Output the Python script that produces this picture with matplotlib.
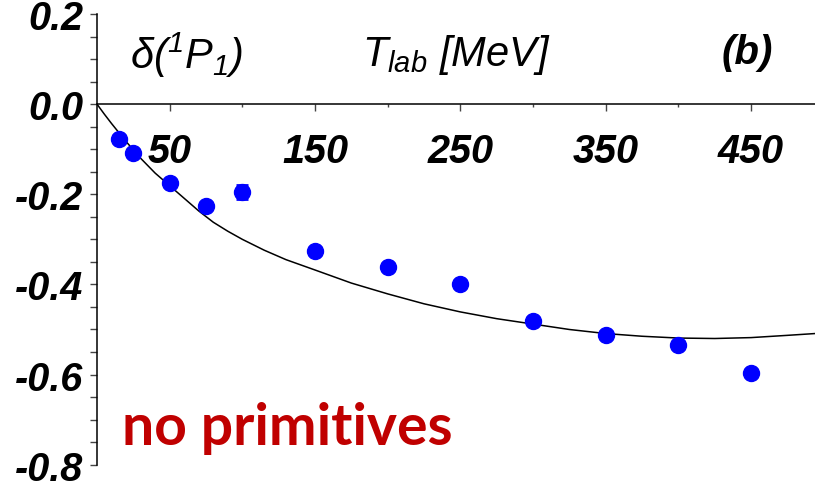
import matplotlib
matplotlib.use("Agg")
import matplotlib.pyplot as plt
from matplotlib.ticker import MultipleLocator, FixedLocator, NullFormatter
import numpy as np

# ---- data ----
t_data = [15, 25, 50, 75, 100, 150, 200, 250, 300, 350, 400, 450]
d_data = [-0.078, -0.109, -0.174, -0.227, -0.195, -0.326, -0.362, -0.400,
          -0.481, -0.512, -0.535, -0.597]
d_err = [0, 0, 0, 0, 0.016, 0, 0, 0, 0, 0, 0, 0]

t_curve = [0, 5, 10, 20, 30, 40, 50, 60, 70, 80, 90, 100, 115, 130, 150, 175,
           200, 225, 250, 275, 300, 325, 350, 375, 400, 425, 450, 475, 494]
d_curve = [0.0, -0.022, -0.043, -0.083, -0.120, -0.153, -0.181, -0.209,
           -0.237, -0.262, -0.282, -0.300, -0.324, -0.345, -0.368, -0.397,
           -0.421, -0.443, -0.461, -0.476, -0.488, -0.500, -0.509, -0.515,
           -0.519, -0.520, -0.518, -0.513, -0.509]

x_major = [50, 150, 250, 350, 450]
x_minor = [100, 200, 300, 400]
y_major = [0.2, 0.0, -0.2, -0.4, -0.6, -0.8]
y_labels = ["0.2", "0.0", "-0.2", "-0.4", "-0.6", "-0.8"]

plt.rcParams['mathtext.fontset'] = 'custom'
plt.rcParams['mathtext.rm'] = 'Liberation Sans:italic'
plt.rcParams['mathtext.it'] = 'Liberation Sans:italic'
plt.rcParams['mathtext.bf'] = 'Liberation Sans:bold:italic'

W, H = 815, 489
fig = plt.figure(figsize=(W / 100, H / 100), dpi=100)
ax = fig.add_axes([97 / W, 1 - 465.7 / H, (815 - 97) / W, (465.7 - 15) / H])
ax.set_xlim(0, 494)
ax.set_ylim(-0.8, 0.2)

ax.plot(t_curve, d_curve, color='black', lw=1.1, zorder=2)

t_arr = np.array(t_data)
d_arr = np.array(d_data)
e_arr = np.array(d_err)
ax.plot(t_arr, d_arr, 'o', color='#0000ff', ms=11.5, mec='#0000ff', zorder=3)
m = e_arr > 0
ax.errorbar(t_arr[m], d_arr[m], yerr=e_arr[m], fmt='none', ecolor='#0000ff',
            elinewidth=2, capsize=4.5, capthick=2, zorder=3)

for s in ['top', 'right']:
    ax.spines[s].set_visible(False)
ax.spines['bottom'].set_position(('data', 0))
ax.spines['bottom'].set_linewidth(1.1)
ax.spines['left'].set_linewidth(1.1)

ax.xaxis.set_major_locator(FixedLocator(x_major))
ax.xaxis.set_minor_locator(FixedLocator(x_minor))
ax.xaxis.set_minor_formatter(NullFormatter())
ax.set_xticklabels([str(v) for v in x_major])
ax.yaxis.set_major_locator(FixedLocator(y_major))
ax.yaxis.set_minor_locator(MultipleLocator(0.05))
ax.set_yticklabels(y_labels)

lab_font = dict(family='Liberation Sans', weight='bold', style='italic', size=28.5)
for lbl in ax.get_xticklabels() + ax.get_yticklabels():
    lbl.set_fontproperties(matplotlib.font_manager.FontProperties(**lab_font))

ax.tick_params(axis='x', which='major', direction='out', length=5, width=1, color='#444', pad=15)
ax.tick_params(axis='x', which='minor', direction='out', length=2.5, width=1, color='#444')
ax.tick_params(axis='y', which='both', direction='out', length=5, width=1, color='#444', pad=5)

fig.text(130 / W, 1 - 55 / H, r'$\mathrm{\delta}(^{1}P_{1})$', fontsize=30,
         ha='left', va='center')
fig.text(362 / W, 1 - 55 / H, r'$T_{lab}\ [MeV]$', fontsize=30,
         ha='left', va='center')
fig.text(722 / W, 1 - 53 / H, '(b)', fontsize=29, family='Liberation Sans',
         weight='bold', style='italic', ha='left', va='center')

fig.text(122 / W, 1 - 445 / H, 'no primitives', color='#c00000', fontsize=41,
         family=['Lato', 'DejaVu Sans'], weight='bold',
         ha='left', va='baseline')

fig.savefig('out.png', dpi=100)
